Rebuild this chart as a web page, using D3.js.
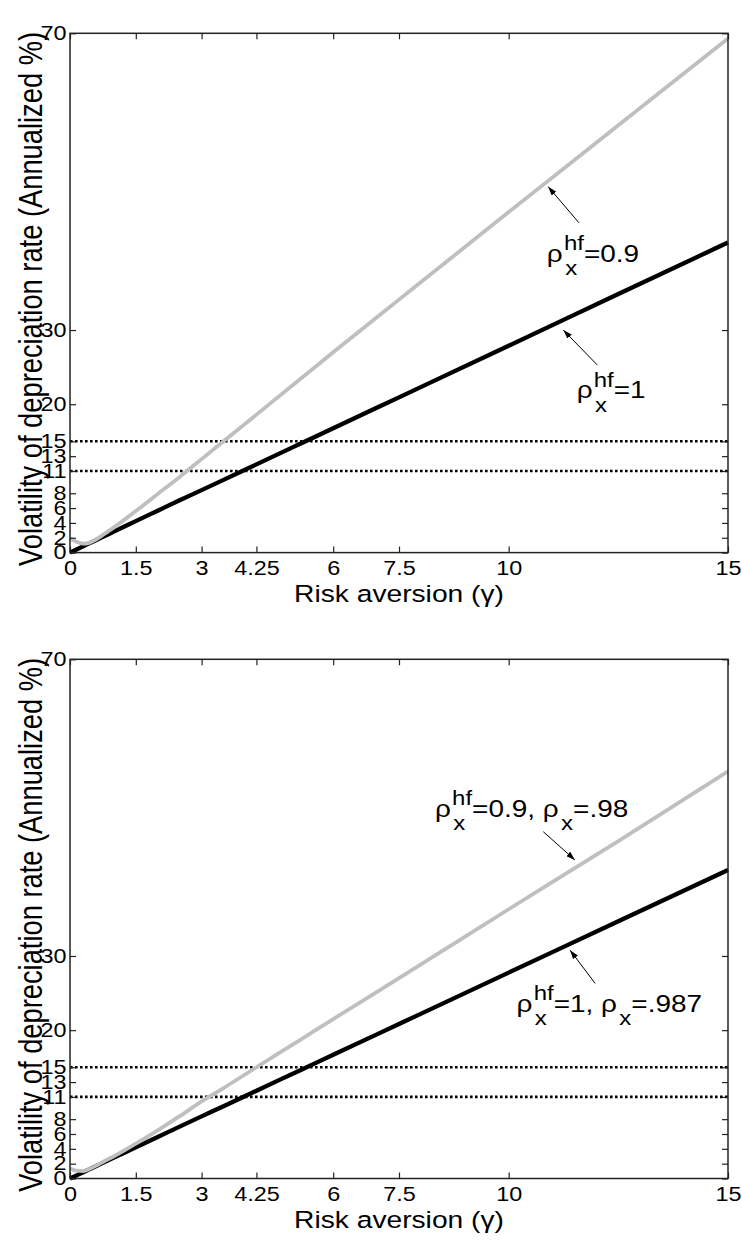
<!DOCTYPE html>
<html>
<head>
<meta charset="utf-8">
<script src="https://cdn.jsdelivr.net/npm/d3@7"></script>
<style>
  body { margin: 0; background: #fff; }
  svg { display: block; }
  text { font-family: "Liberation Sans", Arial, sans-serif; fill: #000; }
</style>
</head>
<body>
<div class="wrapper"></div>
<script>
const width = 742;
const height = 1247;

// risk aversion grid and the four curves
const gamma = [0, 0.15, 0.3, 0.45, 0.6, 0.8, 1, 1.5, 2, 2.5, 3, 3.5, 4.25, 5.25, 6, 7.5, 10, 12.5, 15];
const topBlack = [0, 0.42, 0.85, 1.28, 1.7, 2.27, 2.83, 4.25, 5.65, 7.05, 8.42, 9.8, 11.9, 14.68, 16.76, 20.93, 27.88, 34.85, 41.8];
const topGray = [1.95, 1.45, 1.2, 1.35, 1.8, 2.6, 3.4, 5.6, 7.9, 10.2, 12.6, 15.0, 18.6, 23.4, 27.0, 34.1, 45.9, 57.6, 69.3];
const botBlack = [0, 0.42, 0.84, 1.26, 1.68, 2.25, 2.81, 4.2, 5.6, 7.0, 8.38, 9.75, 11.84, 14.6, 16.68, 20.83, 27.75, 34.68, 41.6];
const botGray = [1.35, 1.05, 1.0, 1.3, 1.75, 2.4, 3.0, 4.7, 6.5, 8.4, 10.4, 12.2, 15.0, 18.7, 21.5, 27.0, 36.3, 45.5, 54.9];

const refLevels = [11, 15];
const xTicks = [0, 1.5, 3, 4.25, 6, 7.5, 10, 15];
const yTicks = [0, 2, 4, 6, 8, 11, 13, 15, 20, 30, 70];

const xLabel = "Risk aversion (\u03b3)";
const yLabel = "Volatility of depreciation rate (Annualized %)";

// annotation labels: plain strings, or [superscript, subscript] pairs
const topNotes = [
  { parts: ["\u03c1", ["hf", "x"], "=0.9"], at: [10.87, 39.2], tip: [10.9, 49.33], tail: [11.6, 44.47] },
  { parts: ["\u03c1", ["hf", "x"], "=1"], at: [11.55, 20.79], tip: [11.245, 30.0], tail: [12.02, 25.29] }
];
const botNotes = [
  { parts: ["\u03c1", ["hf", "x"], "=0.9, \u03c1", [null, "x"], "=.98"], at: [8.32, 48.77], tip: [11.51, 42.95], tail: [10.79, 46.75] },
  { parts: ["\u03c1", ["hf", "x"], "=1, \u03c1", [null, "x"], "=.987"], at: [10.18, 22.49], tip: [11.4, 30.79], tail: [11.97, 26.31] }
];

const stretch = 1.2; // glyphs in the figure are a bit wide
const fontFamily = '"Liberation Sans", Arial, sans-serif';

const x = d3.scaleLinear().domain([0, 15]).range([70, 728]);

const svg = d3
  .select(".wrapper")
  .append("svg")
  .attr("width", width)
  .attr("height", height)
  .attr("viewBox", [0, 0, width, height]);

svg
  .append("defs")
  .append("marker")
  .attr("id", "head")
  .attr("viewBox", "0 0 9 6")
  .attr("markerUnits", "userSpaceOnUse")
  .attr("markerWidth", 9)
  .attr("markerHeight", 6)
  .attr("refX", 9)
  .attr("refY", 3)
  .attr("orient", "auto")
  .append("path")
  .attr("d", "M0,0L9,3L0,6Z")
  .attr("fill", "#000");

const panels = [
  { top: 33.3, bottom: 552.6, black: topBlack, gray: topGray, notes: topNotes },
  { top: 659.3, bottom: 1178.5, black: botBlack, gray: botGray, notes: botNotes }
];

function drawNote(g, parts) {
  let cx = 0;
  parts.forEach((p) => {
    if (typeof p === "string") {
      const t = g.append("text").attr("x", cx).attr("font-size", 23.3).text(p);
      cx += t.node().getComputedTextLength();
    } else {
      let w = 0;
      if (p[0]) {
        const t = g.append("text").attr("x", cx + 1).attr("y", -11.7).attr("font-size", 20).text(p[0]);
        w = Math.max(w, t.node().getComputedTextLength() + 1);
      }
      if (p[1]) {
        const t = g.append("text").attr("x", cx + 2).attr("y", 13.3).attr("font-size", 20).text(p[1]);
        w = Math.max(w, t.node().getComputedTextLength() + 2);
      }
      cx += w;
    }
  });
}

panels.forEach((panel) => {
  const y = d3.scaleLinear().domain([0, 70]).range([panel.bottom, panel.top]);
  const g = svg.append("g");

  // dotted reference levels
  g.append("g")
    .selectAll("line")
    .data(refLevels)
    .join("line")
    .attr("x1", x(0))
    .attr("x2", x(15))
    .attr("y1", (d) => y(d))
    .attr("y2", (d) => y(d))
    .attr("stroke", "#000")
    .attr("stroke-width", 2.6)
    .attr("stroke-dasharray", "2.6,2.4");

  const line = d3
    .line()
    .x((d, i) => x(gamma[i]))
    .y((d) => y(d))
    .curve(d3.curveMonotoneX);

  g.append("path")
    .attr("d", line(panel.black))
    .attr("fill", "none")
    .attr("stroke", "#000")
    .attr("stroke-width", 4.3);

  g.append("path")
    .attr("d", line(panel.gray))
    .attr("fill", "none")
    .attr("stroke", "#bfbfbf")
    .attr("stroke-width", 3.8);

  // axes, ticks pointing inward on all four sides
  const bottomAxis = g
    .append("g")
    .attr("transform", `translate(0,${panel.bottom})`)
    .call(d3.axisBottom(x).tickValues(xTicks).tickSize(-6).tickSizeOuter(0).tickPadding(9).tickFormat(d3.format("")));
  const leftAxis = g
    .append("g")
    .attr("transform", `translate(${x(0)},0)`)
    .call(d3.axisLeft(y).tickValues(yTicks).tickSize(-6).tickSizeOuter(0).tickPadding(3));
  g.append("g")
    .attr("transform", `translate(0,${panel.top})`)
    .call(d3.axisTop(x).tickValues(xTicks).tickSize(-6).tickSizeOuter(0).tickFormat(""));
  g.append("g")
    .attr("transform", `translate(${x(15)},0)`)
    .call(d3.axisRight(y).tickValues(yTicks).tickSize(-6).tickSizeOuter(0).tickFormat(""));

  g.selectAll(".domain").remove();
  g.selectAll(".tick line").attr("stroke", "#222").attr("stroke-width", 1.2);
  [bottomAxis, leftAxis].forEach((a) =>
    a
      .attr("font-size", 19.5)
      .attr("font-family", fontFamily)
      .selectAll("text")
      .attr("fill", "#000")
      .attr("transform", `scale(${stretch},1)`)
  );

  g.append("rect")
    .attr("x", x(0))
    .attr("y", panel.top)
    .attr("width", x(15) - x(0))
    .attr("height", panel.bottom - panel.top)
    .attr("fill", "none")
    .attr("stroke", "#222")
    .attr("stroke-width", 1.5);

  // axis titles
  g.append("text")
    .attr("transform", `translate(${(x(0) + x(15)) / 2},${panel.bottom + 49}) scale(${stretch},1)`)
    .attr("text-anchor", "middle")
    .attr("font-size", 23.5)
    .text(xLabel);

  g.append("text")
    .attr("transform", `translate(41.5,${(panel.top + panel.bottom) / 2 + 6}) rotate(-90) scale(1,${stretch})`)
    .attr("text-anchor", "middle")
    .attr("font-size", 27.3)
    .text(yLabel);

  // annotations with arrows
  panel.notes.forEach((n) => {
    g.append("line")
      .attr("x1", x(n.tail[0]))
      .attr("y1", y(n.tail[1]))
      .attr("x2", x(n.tip[0]))
      .attr("y2", y(n.tip[1]))
      .attr("stroke", "#000")
      .attr("stroke-width", 1)
      .attr("marker-end", "url(#head)");
    const ng = g.append("g").attr("transform", `translate(${x(n.at[0])},${y(n.at[1])}) scale(${stretch},1)`);
    drawNote(ng, n.parts);
  });
});
</script>
</body>
</html>
